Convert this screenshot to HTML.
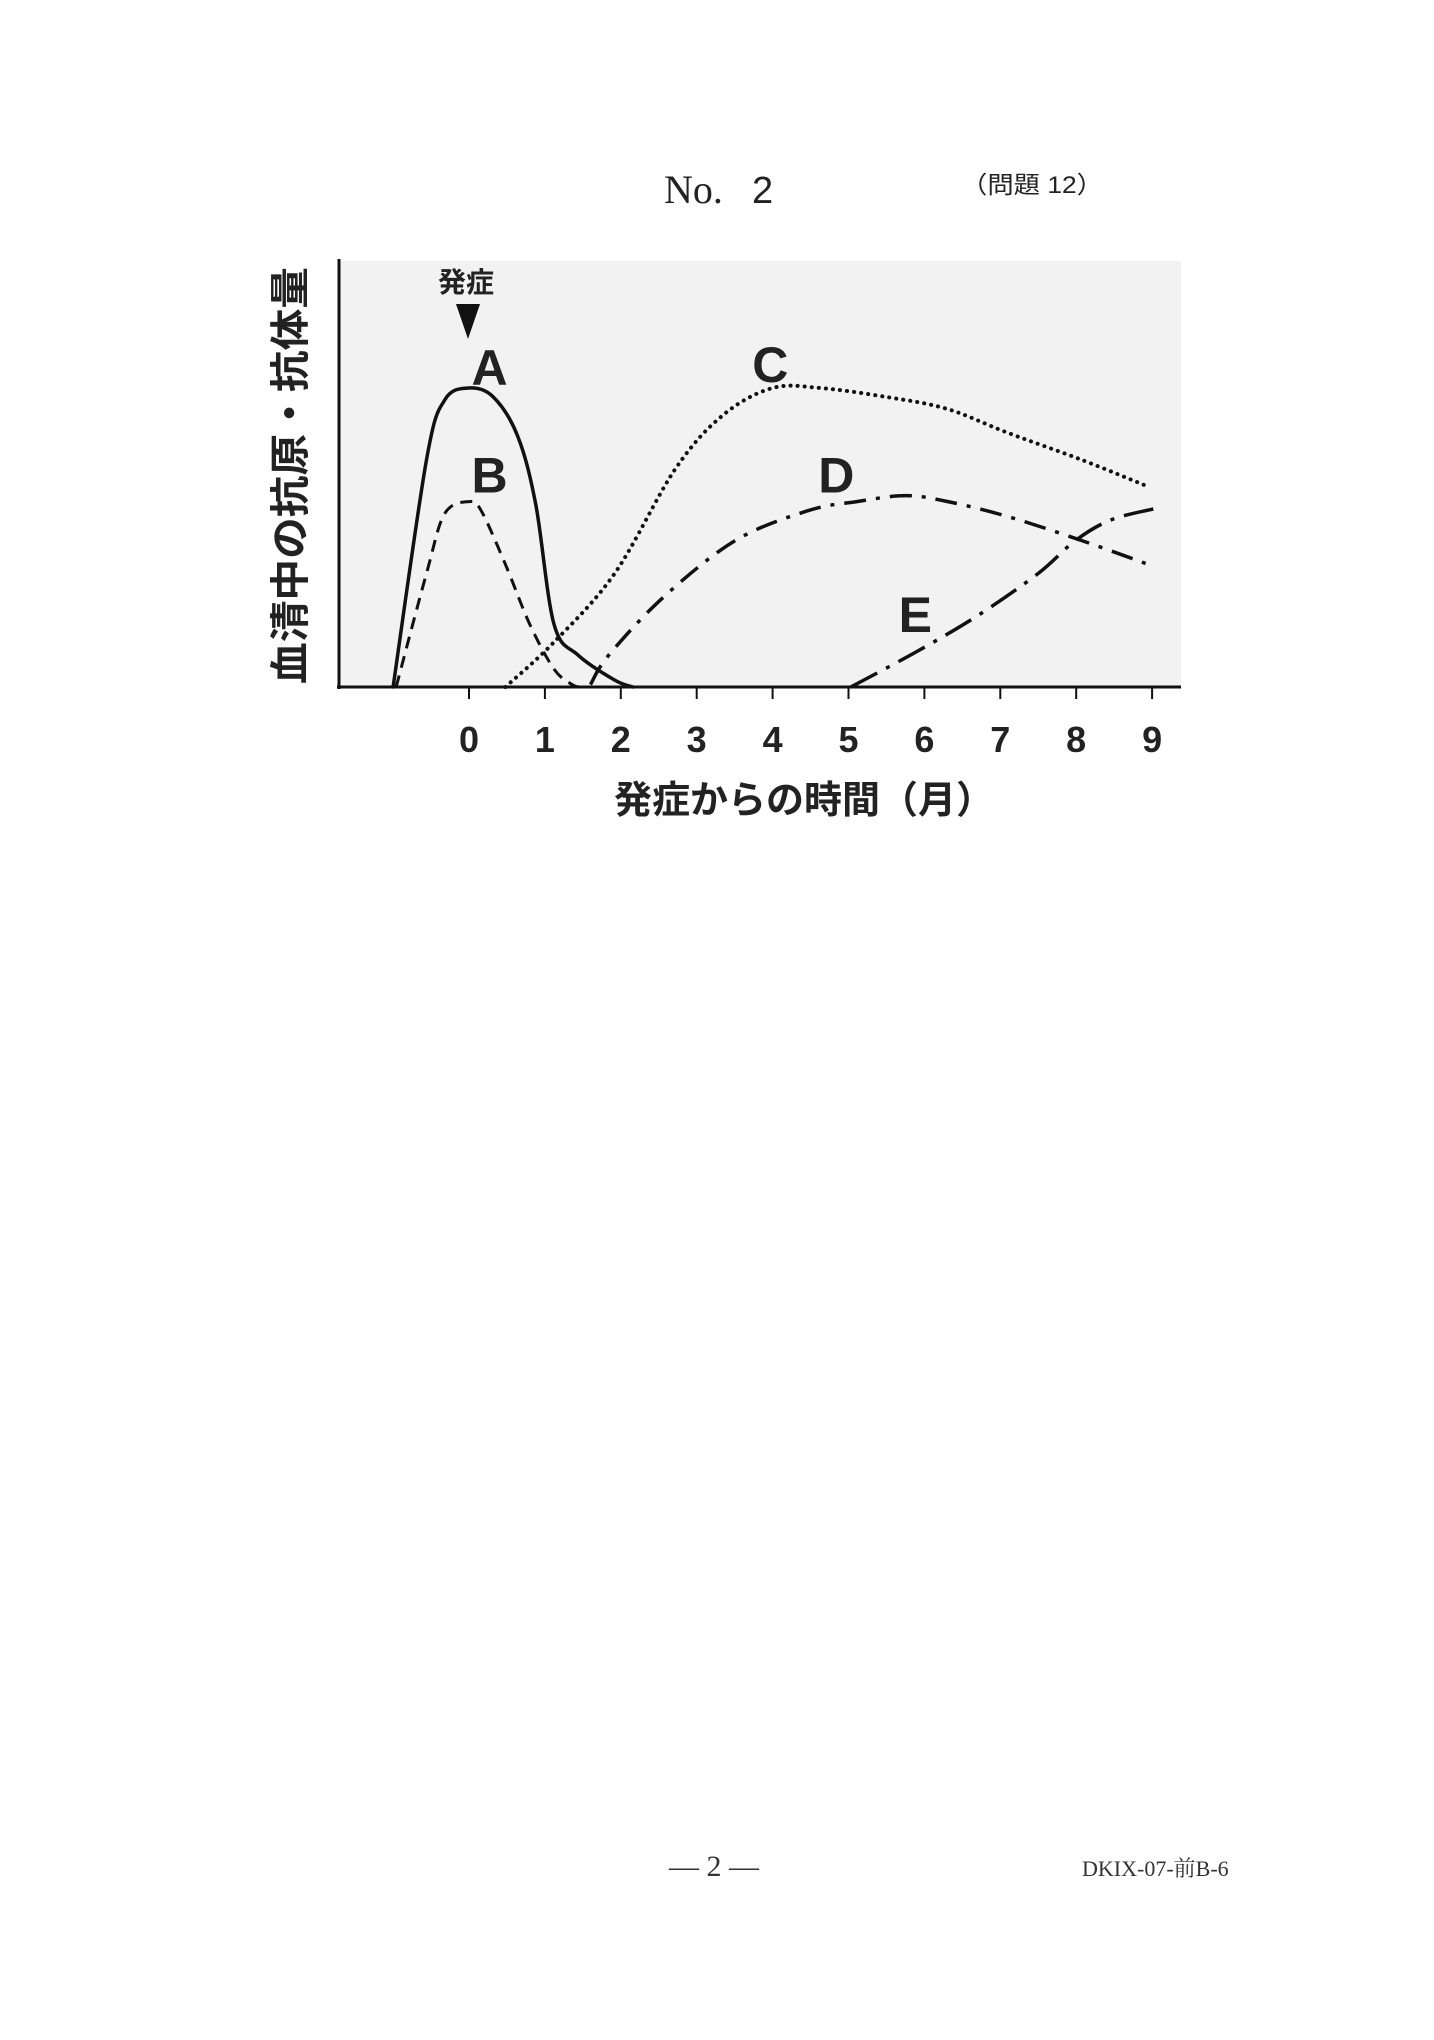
<!DOCTYPE html>
<html><head><meta charset="utf-8"><style>
html,body{margin:0;padding:0;background:#fff;}
svg{display:block;}
</style></head><body>
<svg id="page" width="1434" height="2040" viewBox="0 0 1434 2040" xmlns="http://www.w3.org/2000/svg">
<rect width="1434" height="2040" fill="#fff"/>
<text x="664" y="203" font-family="Liberation Serif, serif" font-size="40" fill="#222">No.</text>
<text x="752" y="203" font-family="Liberation Sans, sans-serif" font-size="38" fill="#222">2</text>
<text x="961" y="193" font-family="Liberation Sans, 'Noto Sans CJK JP', sans-serif" font-size="24" fill="#222" textLength="142" lengthAdjust="spacingAndGlyphs">（問題 12）</text>
<rect x="339" y="261" width="842" height="426" fill="#f2f2f2"/>
<g id="chart"></g>
<text transform="translate(304,684) rotate(-90)" font-family="Liberation Sans, 'Noto Sans CJK JP', sans-serif" font-size="40" font-weight="bold" fill="#222" textLength="417" lengthAdjust="spacingAndGlyphs">血清中の抗原・抗体量</text>
<text x="804" y="813" text-anchor="middle" font-family="Liberation Sans, 'Noto Sans CJK JP', sans-serif" font-size="38" font-weight="bold" fill="#222">発症からの時間（月）</text>
<text x="466" y="292" text-anchor="middle" font-family="Liberation Sans, 'Noto Sans CJK JP', sans-serif" font-size="28" font-weight="bold" fill="#222">発症</text>
<polygon points="456,304 480,304 468,339" fill="#111"/>
<text x="714" y="1876" text-anchor="middle" font-family="Liberation Serif, serif" font-size="30" fill="#333">— 2 —</text>
<text x="1082" y="1876" font-family="Liberation Serif, 'Noto Serif CJK SC', serif" font-size="22" fill="#333">DKIX-07-前B-6</text>
</svg>
<script>
const months = [0,1,2,3,4,5,6,7,8,9];
const seriesA_x = [-1.0,-0.56,-0.32,0,0.32,0.64,0.88,1.12,1.44,1.92,2.16];
const seriesA_y = [0,76,96,100,97,84,61,21,10.6,2.3,0];
const seriesB_x = [-0.96,-0.56,-0.32,0,0.16,0.48,0.8,1.12,1.36,1.48];
const seriesB_y = [0,38,58,62,59,41,21,6,0.8,0];
const seriesC_x = [0.48,1.12,1.92,2.72,3.35,4.0,4.63,5.5,6.3,7.1,8.07,8.95];
const seriesC_y = [0,15,38,73,91,100,100,97,93,85,76,67];
const seriesD_x = [1.6,1.84,2.56,3.51,4.47,5.11,5.75,6.31,7.1,8.07,8.95];
const seriesD_y = [0.8,10.6,30,49,59,62,64,62,57,49,41];
const seriesE_x = [5.03,5.91,6.71,7.5,7.99,8.47,9.1];
const seriesE_y = [0,12,24,38,49,56,60];
const labels = ['A','B','C','D','E'];
const labelX = [0.27,0.27,3.97,4.84,5.88];
const labelY = [101,65,102,65,18.4];

const NS='http://www.w3.org/2000/svg';
const g=document.getElementById('chart');
const xs=m=>469+m*75.9;
const ys=v=>687-v*2.99;
function mk(t,a){const e=document.createElementNS(NS,t);for(const k in a)e.setAttribute(k,a[k]);g.appendChild(e);return e;}
function pathD(X,Y){
  const p=X.map((x,i)=>[xs(x),ys(Y[i])]);
  let d='M'+p[0][0]+','+p[0][1];
  for(let i=0;i<p.length-1;i++){
    const p0=p[i-1]||p[i],p1=p[i],p2=p[i+1],p3=p[i+2]||p[i+1];
    const c1=[p1[0]+(p2[0]-p0[0])/6,p1[1]+(p2[1]-p0[1])/6];
    const c2=[p2[0]-(p3[0]-p1[0])/6,p2[1]-(p3[1]-p1[1])/6];
    d+=' C'+c1+' '+c2+' '+p2;
  }
  return d;
}
let ax=mk('line',{x1:339,y1:259,x2:339,y2:689,stroke:'#111','stroke-width':3});


ax=mk('line',{x1:337,y1:687,x2:1181,y2:687,stroke:'#111','stroke-width':3});


months.forEach(m=>{
  const t=mk('line',{x1:xs(m),y1:687,x2:xs(m),y2:699,stroke:'#111','stroke-width':2});
  
  
  const l=mk('text',{x:xs(m),y:752,'text-anchor':'middle','font-family':'Liberation Sans, sans-serif','font-size':36,'font-weight':'bold',fill:'#222'});
  l.textContent=m;
  
  
});
const styles=[
 {X:seriesA_x,Y:seriesA_y,dash:'',w:3.5,cap:'round',n:'curve-a'},
 {X:seriesB_x,Y:seriesB_y,dash:'12 8',w:3,cap:'butt',n:'curve-b'},
 {X:seriesC_x,Y:seriesC_y,dash:'0.1 7',w:4,cap:'round',n:'curve-c'},
 {X:seriesD_x,Y:seriesD_y,dash:'22 10 4 10',w:3.5,cap:'butt',n:'curve-d'},
 {X:seriesE_x,Y:seriesE_y,dash:'30 10 4 10',w:3.5,cap:'butt',n:'curve-e'}];
styles.forEach(s=>{
  const p=mk('path',{d:pathD(s.X,s.Y),fill:'none',stroke:'#111','stroke-width':s.w,'stroke-linecap':s.cap,'stroke-dasharray':s.dash});
  
  
});
labels.forEach((t,i)=>{
  const l=mk('text',{x:xs(labelX[i]),y:ys(labelY[i]),'text-anchor':'middle','font-family':'Liberation Sans, sans-serif','font-size':50,'font-weight':'bold',fill:'#222'});
  l.textContent=t;
  
  
});
</script>
</body></html>
